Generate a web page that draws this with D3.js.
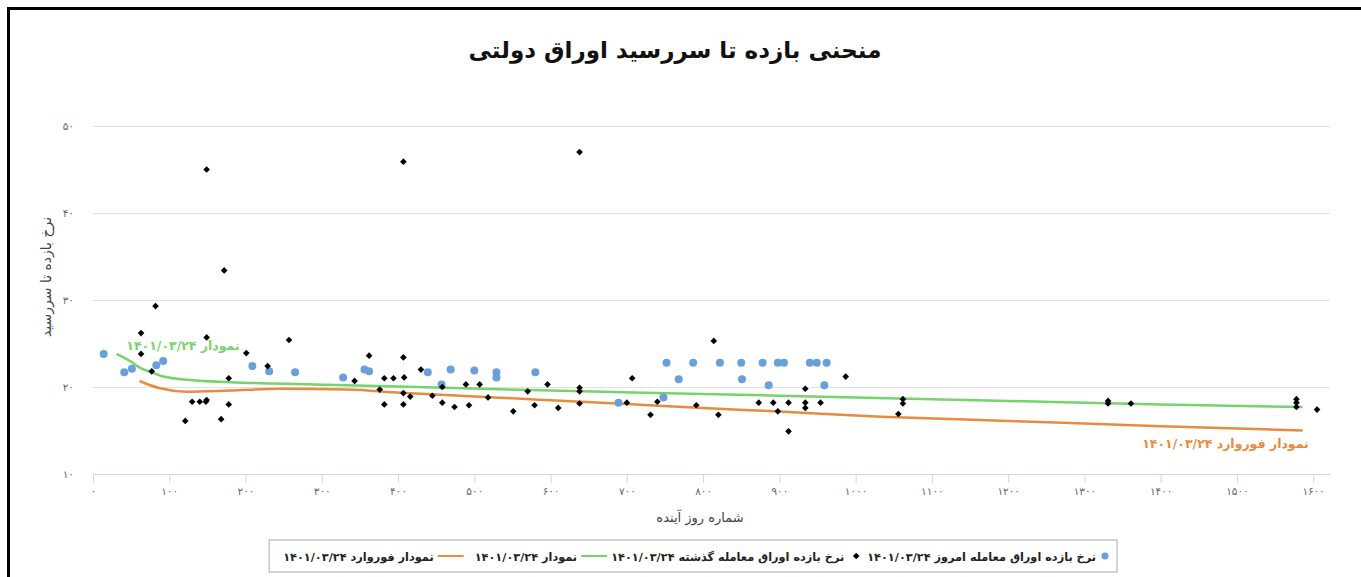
<!DOCTYPE html>
<html>
<head>
<meta charset="utf-8">
<script src="https://cdn.jsdelivr.net/npm/d3@7"></script>
<style>
  html, body { margin: 0; padding: 0; background: #fff; }
  svg { display: block; font-family: "DejaVu Sans", sans-serif; }
</style>
</head>
<body>
<svg id="chart" width="1361" height="577"></svg>
<script>
// tick values
var xTicks = [0, 100, 200, 300, 400, 500, 600, 700, 800, 900, 1000, 1100, 1200, 1300, 1400, 1500, 1600];
var yTicks = [10, 20, 30, 40, 50];

// today's trades (blue dots)
var todayDays = [14, 41, 51, 83, 92, 209, 231, 265, 328, 356, 362, 439, 457, 469, 500, 529, 529, 580, 689, 748, 752, 768, 787, 822, 850, 851, 878, 886, 898, 906, 940, 949, 962, 959];
var todayYields = [23.8, 21.7, 22.1, 22.5, 23.0, 22.4, 21.8, 21.7, 21.1, 22.0, 21.8, 21.7, 20.3, 22.0, 21.9, 21.7, 21.1, 21.7, 18.2, 18.8, 22.8, 20.9, 22.8, 22.8, 22.8, 20.9, 22.8, 20.2, 22.8, 22.8, 22.8, 22.8, 22.8, 20.2];

// past trades (black diamonds)
var pastDays = [63, 63, 77, 82, 149, 149, 121, 130, 140, 148, 149, 178, 178, 168, 172, 201, 229, 257, 343, 362, 382, 394, 408, 407, 407, 376, 382, 407, 407, 416, 430, 445, 458, 458, 474, 489, 493, 507, 518, 551, 570, 579, 596, 610, 638, 638, 638, 638, 700, 707, 731, 740, 791, 814, 820, 873, 892, 898, 912, 912, 934, 934, 934, 954, 987, 1062, 1062, 1056, 1331, 1331, 1361, 1578, 1578, 1578, 1605];
var pastYields = [26.2, 23.8, 21.8, 29.3, 45.0, 25.7, 16.1, 18.3, 18.3, 18.3, 18.5, 21.0, 18.0, 16.3, 33.4, 23.9, 22.4, 25.4, 20.7, 23.6, 21.0, 21.0, 21.1, 23.4, 45.9, 19.7, 18.0, 18.0, 19.3, 18.9, 22.0, 19.0, 18.2, 20.0, 17.7, 20.3, 17.9, 20.3, 18.8, 17.2, 19.5, 17.9, 20.3, 17.6, 47.0, 19.9, 19.5, 18.1, 18.2, 21.0, 16.8, 18.3, 17.9, 25.3, 16.8, 18.2, 18.2, 17.2, 18.2, 14.9, 19.8, 18.2, 17.6, 18.2, 21.2, 18.6, 18.1, 16.9, 18.4, 18.1, 18.1, 18.6, 18.2, 17.7, 17.4];

// yield curve (green)
var curveDays = [31, 50, 62, 80, 92, 127, 180, 290, 400, 600, 800, 1000, 1200, 1400, 1586];
var curveYields = [23.8, 22.9, 22.2, 21.6, 21.2, 20.8, 20.55, 20.3, 20.05, 19.6, 19.2, 18.8, 18.4, 18.0, 17.7];

// forward curve (orange)
var forwardDays = [61, 75, 88, 123, 180, 245, 333, 403, 500, 600, 700, 800, 900, 1033, 1200, 1400, 1586];
var forwardYields = [20.7, 20.2, 19.85, 19.45, 19.6, 19.8, 19.7, 19.35, 18.92, 18.48, 18.04, 17.6, 17.17, 16.59, 16.1, 15.5, 15.0];

var title = "منحنی بازده تا سررسید اوراق دولتی";
var xTitle = "شماره روز آینده";
var yTitle = "نرخ بازده تا سررسید";
var seriesNames = [
  "نرخ بازده اوراق معامله امروز ۱۴۰۱/۰۳/۲۴",
  "نرخ بازده اوراق معامله گذشته ۱۴۰۱/۰۳/۲۴",
  "نمودار ۱۴۰۱/۰۳/۲۴",
  "نمودار فوروارد ۱۴۰۱/۰۳/۲۴"
];

var blue = "#6a9fdb", green = "#76d46c", orange = "#e98b3f";

function fa(v) {
  return String(v).replace(/\d/g, function (d) { return "۰۱۲۳۴۵۶۷۸۹"[+d]; });
}

var svg = d3.select("#chart");
var plot = { left: 93, right: 1330, top: 126, bottom: 474 };

var xScale = d3.scaleLinear().domain([0, 1622]).range([plot.left, plot.right]);
var yScale = d3.scaleLinear().domain([10, 50]).range([plot.bottom, plot.top]);

// frame
svg.append("path")
  .attr("d", "M8.5,577 L8.5,8.5 L1361,8.5")
  .attr("fill", "none")
  .attr("stroke", "#000")
  .attr("stroke-width", 3);

svg.append("text")
  .attr("x", 675).attr("y", 58)
  .attr("text-anchor", "middle")
  .attr("font-size", 23).attr("font-weight", "bold")
  .attr("fill", "#111")
  .text(title);

// y axis with grid
var yAxis = d3.axisLeft(yScale)
  .tickValues(yTicks)
  .tickSizeInner(-(plot.right - plot.left))
  .tickSizeOuter(0)
  .tickPadding(19)
  .tickFormat(fa);

var gy = svg.append("g")
  .attr("transform", "translate(" + plot.left + ",0)")
  .call(yAxis);
gy.select(".domain").remove();
gy.selectAll(".tick line").attr("stroke", "#e2e2e2");
gy.selectAll(".tick text").attr("fill", "#666").attr("font-size", 10.5).attr("font-family", "DejaVu Sans");

// x axis
var xAxis = d3.axisBottom(xScale)
  .tickValues(xTicks)
  .tickSizeInner(9)
  .tickSizeOuter(0)
  .tickPadding(5)
  .tickFormat(fa);

var gx = svg.append("g")
  .attr("transform", "translate(0," + plot.bottom + ")")
  .call(xAxis);
gx.select(".domain").attr("stroke", "#ccd6eb");
gx.selectAll(".tick line").attr("stroke", "#ccd6eb");
gx.selectAll(".tick text").attr("fill", "#666").attr("font-size", 10.5).attr("font-family", "DejaVu Sans");

svg.append("text")
  .attr("x", 700).attr("y", 522)
  .attr("text-anchor", "middle")
  .attr("font-size", 13).attr("fill", "#444")
  .text(xTitle);

svg.append("text")
  .attr("transform", "translate(51,277) rotate(-90)")
  .attr("text-anchor", "middle")
  .attr("font-size", 14).attr("fill", "#444")
  .text(yTitle);

// curves
var line = d3.line()
  .x(function (d) { return xScale(d[0]); })
  .y(function (d) { return yScale(d[1]); })
  .curve(d3.curveMonotoneX);

svg.append("path")
  .datum(d3.zip(curveDays, curveYields))
  .attr("d", line)
  .attr("fill", "none").attr("stroke", green).attr("stroke-width", 2.5);

svg.append("path")
  .datum(d3.zip(forwardDays, forwardYields))
  .attr("d", line)
  .attr("fill", "none").attr("stroke", orange).attr("stroke-width", 2.5);

// curve labels
svg.append("text")
  .attr("x", xScale(118)).attr("y", yScale(24.3))
  .attr("text-anchor", "middle")
  .attr("font-size", 12.5).attr("font-weight", "bold")
  .attr("fill", green)
  .text(seriesNames[2]);

svg.append("text")
  .attr("x", xScale(1485)).attr("y", yScale(13.0))
  .attr("text-anchor", "middle")
  .attr("font-size", 12.5).attr("font-weight", "bold")
  .attr("fill", orange)
  .text(seriesNames[3]);

// points
svg.append("g").selectAll("circle")
  .data(d3.zip(todayDays, todayYields))
  .enter().append("circle")
  .attr("cx", function (d) { return xScale(d[0]); })
  .attr("cy", function (d) { return yScale(d[1]); })
  .attr("r", 4)
  .attr("fill", blue);

var diamond = d3.symbol().type(d3.symbolSquare).size(22);
svg.append("g").selectAll("path")
  .data(d3.zip(pastDays, pastYields))
  .enter().append("path")
  .attr("d", diamond)
  .attr("transform", function (d) {
    return "translate(" + xScale(d[0]) + "," + yScale(d[1]) + ") rotate(45)";
  })
  .attr("fill", "#000");

// legend, laid out right to left
var legend = svg.append("g");
var box = legend.append("rect")
  .attr("fill", "#fff").attr("stroke", "#aaa").attr("stroke-width", 1);

var lx = 1105, ly = 556;
seriesNames.forEach(function (name, i) {
  if (i === 0) {
    legend.append("circle").attr("cx", lx).attr("cy", ly).attr("r", 3.5).attr("fill", blue);
    lx -= 9;
  } else if (i === 1) {
    legend.append("path").attr("d", diamond)
      .attr("transform", "translate(" + lx + "," + ly + ") rotate(45)")
      .attr("fill", "#000");
    lx -= 12;
  } else {
    legend.append("line")
      .attr("x1", lx - 26).attr("x2", lx).attr("y1", ly).attr("y2", ly)
      .attr("stroke", i === 2 ? green : orange).attr("stroke-width", 2);
    lx -= 30;
  }
  var t = legend.append("text")
    .attr("x", lx).attr("y", ly + 4.5)
    .attr("text-anchor", "end")
    .attr("font-size", 11.3).attr("font-weight", "bold")
    .attr("fill", "#222")
    .text(name);
  lx -= t.node().getComputedTextLength() + (i === 1 ? 4 : 11);
});
box.attr("x", lx - 3).attr("y", 540).attr("width", 1117 - lx + 3).attr("height", 32);
</script>
</body>
</html>
